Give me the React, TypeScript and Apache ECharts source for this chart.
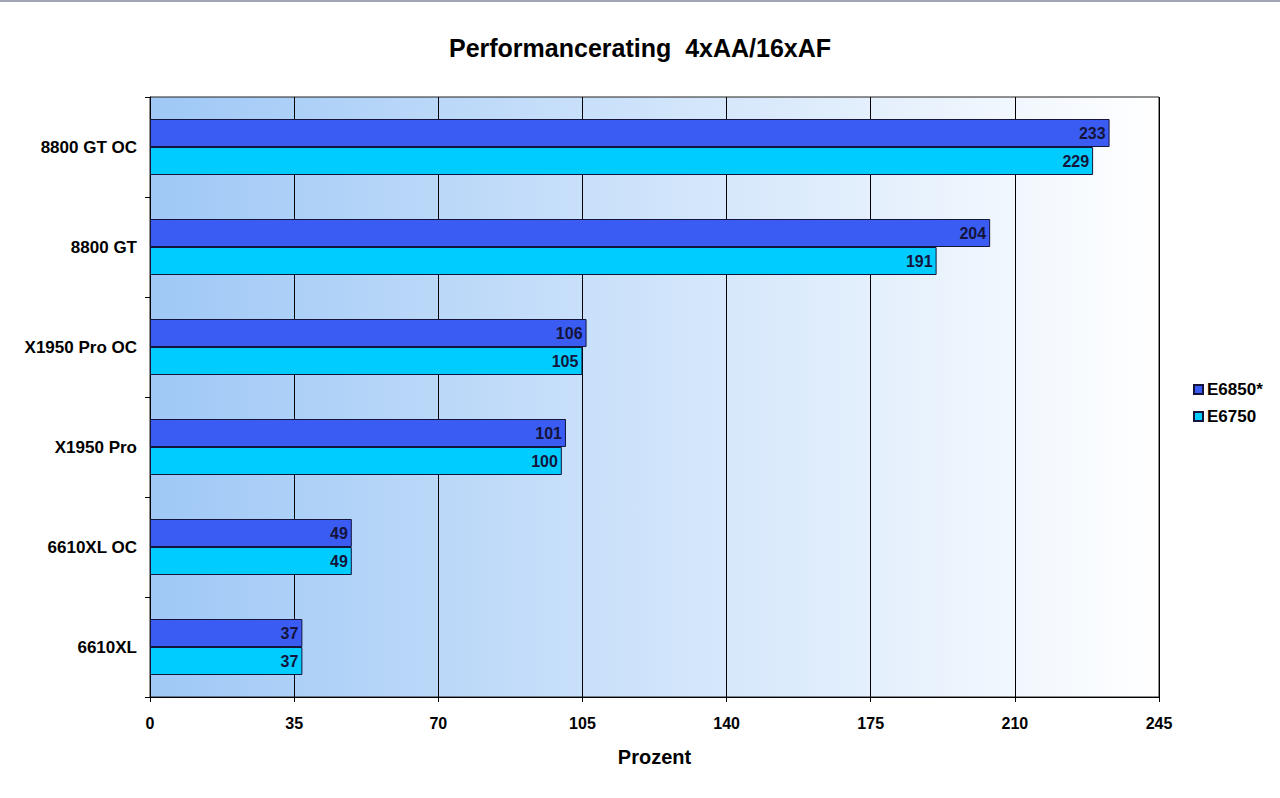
import React, { useEffect, useRef } from "react";
import * as echarts from "echarts";

const categories = ["8800 GT OC", "8800 GT", "X1950 Pro OC", "X1950 Pro", "6610XL OC", "6610XL"];
const seriesNames = ["E6850*", "E6750"];
const e6850 = [233, 204, 106, 101, 49, 37];
const e6750 = [229, 191, 105, 100, 49, 37];
const xTicks = [0, 35, 70, 105, 140, 175, 210, 245];

const FONT = "'Liberation Sans', Arial, sans-serif";

export default function App() {
  const ref = useRef<HTMLDivElement>(null);
  useEffect(() => {
    document.body.style.margin = "0";
    const chart = echarts.init(ref.current!, null, { renderer: "svg" });
    const labelStyle = {
      show: true,
      position: "insideRight" as const,
      distance: 4,
      color: "#14143c",
      fontFamily: FONT,
      fontWeight: "bold" as const,
      fontSize: 16,
    };
    chart.setOption({
      animation: false,
      backgroundColor: "#ffffff",
      title: {
        text: "Performancerating  4xAA/16xAF",
        left: "center",
        top: 28,
        textStyle: { fontFamily: FONT, fontWeight: "bold", fontSize: 25, color: "#000" },
      },
      legend: {
        orient: "vertical",
        left: 1188,
        top: 373,
        itemWidth: 9,
        itemHeight: 9,
        itemGap: 8,
        icon: "rect",
        data: seriesNames,
        textStyle: { fontFamily: FONT, fontWeight: "bold", fontSize: 17, lineHeight: 19, color: "#000", padding: [0, 0, 0, -1] },
      },
      grid: {
        left: 150,
        right: 121,
        top: 95,
        bottom: 101,
        show: true,
        borderColor: "#222",
        borderWidth: 1,
        backgroundColor: new echarts.graphic.LinearGradient(0, 0, 1, 0, [
          { offset: 0, color: "#9fc8f6" },
          { offset: 1, color: "#ffffff" },
        ]),
      },
      xAxis: {
        type: "value",
        min: 0,
        max: 245,
        interval: 35,
        name: "Prozent",
        nameLocation: "middle",
        nameGap: 50,
        nameTextStyle: { fontFamily: FONT, fontWeight: "bold", fontSize: 20, color: "#000" },
        axisLine: { show: true, lineStyle: { color: "#000", width: 1 } },
        axisTick: { show: true, length: 5, lineStyle: { color: "#000" } },
        axisLabel: {
          margin: 18,
          fontFamily: FONT,
          fontWeight: "bold",
          fontSize: 16,
          color: "#000",
          formatter: (v: number) => (xTicks.includes(v) ? String(v) : ""),
        },
        splitLine: { show: true, lineStyle: { color: "#000", width: 1 } },
      },
      yAxis: {
        type: "category",
        data: categories,
        inverse: true,
        axisLine: { show: true, lineStyle: { color: "#000", width: 1 } },
        axisTick: { show: true, length: 5, lineStyle: { color: "#000" } },
        axisLabel: {
          margin: 13,
          fontFamily: FONT,
          fontWeight: "bold",
          fontSize: 17,
          color: "#000",
        },
        splitLine: { show: false },
      },
      series: [
        {
          name: seriesNames[0],
          type: "bar",
          data: e6850,
          barCategoryGap: "44%",
          barGap: "0%",
          itemStyle: { color: "#3a5cf2", borderColor: "#14143c", borderWidth: 1 },
          label: labelStyle,
          emphasis: { disabled: true },
        },
        {
          name: seriesNames[1],
          type: "bar",
          data: e6750,
          barCategoryGap: "44%",
          barGap: "0%",
          itemStyle: { color: "#00ccff", borderColor: "#14143c", borderWidth: 1 },
          label: labelStyle,
          emphasis: { disabled: true },
        },
      ],
    });
    return () => chart.dispose();
  }, []);
  return (
    <div
      ref={ref}
      style={{ position: "absolute", left: 0, top: 0, width: 1280, height: 798, borderTop: "2px solid #a0a4b4", boxSizing: "border-box" }}
    />
  );
}
